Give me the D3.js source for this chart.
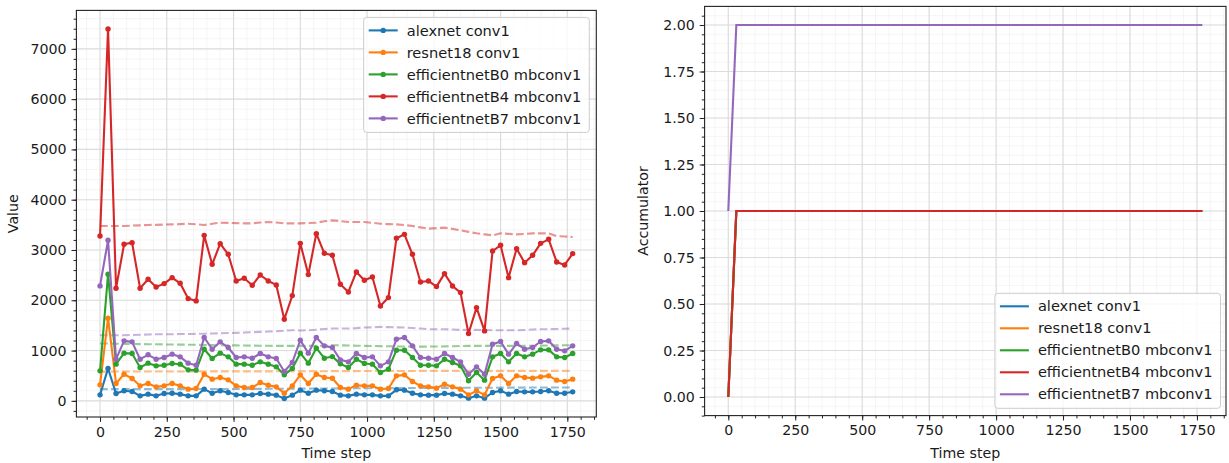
<!DOCTYPE html>
<html>
<head>
<meta charset="utf-8">
<script src="https://cdn.jsdelivr.net/npm/d3@7"></script>
<style>
  html, body { margin: 0; padding: 0; background: #fff; }
  svg { display: block; font-family: "DejaVu Sans", sans-serif; }
</style>
</head>
<body>
<svg id="chart" width="1229" height="463"></svg>
<script>
// time steps (x values)
const steps = [0,30,60,90,120,150,180,210,240,270,300,330,360,390,420,450,480,510,540,570,
  600,630,660,690,720,750,780,810,840,870,900,930,960,990,1020,1050,1080,1110,1140,1170,
  1200,1230,1260,1290,1320,1350,1380,1410,1440,1470,1500,1530,1560,1590,1620,1650,1680,1710,1740,1770];

const seriesNames = ['alexnet conv1', 'resnet18 conv1', 'efficientnetB0 mbconv1', 'efficientnetB4 mbconv1', 'efficientnetB7 mbconv1'];
const colors = ['#1f77b4', '#ff7f0e', '#2ca02c', '#d62728', '#9467bd'];

// left panel: values
const alexnet = [119,643,146,199,186,99,133,99,146,152,133,99,99,232,152,199,166,119,119,119,
  146,133,113,46,113,212,152,212,199,186,113,99,133,119,119,99,99,219,212,152,
  119,113,113,146,133,99,53,99,53,166,199,133,186,179,179,186,199,152,152,179];
const resnet18 = [318,1643,345,530,444,298,345,278,298,345,298,232,245,530,431,464,417,298,265,265,
  364,311,278,152,298,517,345,530,464,450,265,232,311,298,298,232,245,497,517,384,
  298,278,252,331,278,232,119,199,119,444,497,345,497,464,451,477,497,411,384,431];
const effB0 = [596,2518,729,948,941,663,749,696,709,742,729,616,610,1027,842,948,875,729,729,709,
  775,729,676,517,643,948,749,1047,848,880,735,663,828,742,729,563,630,1007,1007,862,
  709,709,696,828,762,696,398,563,411,875,941,775,941,875,928,1014,1014,875,862,941];
const effB4 = [3278,7397,2238,3113,3146,2238,2417,2265,2331,2450,2338,2033,1987,3291,2715,3126,2914,2384,2437,2298,
  2503,2384,2305,1623,2093,3132,2510,3325,2934,2894,2318,2165,2563,2397,2464,1887,2053,3232,3311,2914,
  2364,2384,2272,2530,2285,2152,1338,1854,1391,2980,3093,2450,3026,2748,2894,3132,3212,2762,2702,2927];
const effB7 = [2286,3194,828,1193,1173,828,915,828,862,928,875,749,709,1259,1027,1173,1060,862,875,848,
  941,875,842,583,762,1206,948,1259,1093,1060,815,775,941,862,875,696,775,1226,1259,1093,
  862,848,828,941,862,775,530,676,530,1127,1180,928,1140,1027,1060,1180,1193,1027,994,1093];

// left panel: dashed reference lines
const alexnetRef = [232,232,232,232,232,232,232,232,232,232,233,233,234,234,235,235,236,236,237,238,
  238,239,240,240,241,242,243,244,245,246,247,248,249,250,251,252,253,254,255,256,
  256,257,258,258,259,259,260,260,261,261,262,262,263,263,264,264,265,265,265,265];
const resnet18Ref = [580,580,582,583,583,583,583,583,583,583,583,584,584,584,585,585,585,585,586,586,
  586,586,587,587,587,588,588,588,589,590,590,591,591,592,592,593,593,594,594,594,
  595,595,595,596,596,596,596,596,596,596,596,596,596,596,596,596,596,596,596,596];
const effB0Ref = [1139,1139,1136,1133,1130,1128,1126,1124,1122,1120,1118,1116,1114,1110,1108,1106,1104,1102,1100,1098,
  1096,1094,1093,1093,1093,1093,1093,1094,1098,1106,1104,1100,1096,1093,1090,1087,1084,1082,1080,1079,
  1079,1079,1080,1082,1086,1090,1093,1093,1093,1093,1093,1093,1093,1093,1095,1098,1100,1102,1104,1106];
const effB4Ref = [3477,3477,3477,3477,3485,3490,3497,3500,3505,3510,3515,3523,3510,3497,3520,3543,3540,3535,3530,3530,
  3545,3556,3545,3530,3530,3530,3535,3543,3570,3589,3575,3556,3556,3556,3540,3523,3515,3510,3495,3477,
  3450,3424,3435,3444,3420,3391,3360,3331,3310,3291,3331,3320,3311,3320,3331,3331,3331,3278,3268,3258];
const effB7Ref = [1305,1305,1305,1305,1310,1315,1320,1325,1325,1325,1328,1330,1332,1335,1338,1344,1348,1352,1358,1365,
  1371,1378,1385,1395,1404,1400,1404,1415,1428,1437,1437,1437,1445,1457,1462,1470,1465,1460,1457,1448,
  1437,1424,1424,1424,1418,1411,1411,1411,1408,1404,1404,1404,1404,1410,1418,1424,1424,1430,1434,1437];

// right panel: accumulator (piecewise, points where it changes)
const accSteps = [0, 30, 1770];
const alexnetAcc = [0, 1, 1];
const resnet18Acc = [0, 1, 1];
const effB0Acc = [0, 1, 1];
const effB4Acc = [0, 1, 1];
const effB7Acc = [1, 2, 2];

const xTicks = [0,250,500,750,1000,1250,1500,1750];
const leftYTicks = [0,1000,2000,3000,4000,5000,6000,7000];
const rightYTicks = [0,0.25,0.5,0.75,1,1.25,1.5,1.75,2];

const values = [alexnet, resnet18, effB0, effB4, effB7];
const refs = [alexnetRef, resnet18Ref, effB0Ref, effB4Ref, effB7Ref];
const accs = [alexnetAcc, resnet18Acc, effB0Acc, effB4Acc, effB7Acc];

const svg = d3.select('#chart');
const FS = 14.2;

// matplotlib-ish autoscale with 5% margins
function padded(lo, hi){ const m = (hi - lo) * 0.05; return [lo - m, hi + m]; }

function panel({left, right, top, bottom, xDomain, yDomain, yTicks, yMinorStep, yFmt, ylabel, ylabelX}){
  const x = d3.scaleLinear().domain(xDomain).range([left, right]);
  const y = d3.scaleLinear().domain(yDomain).range([bottom, top]);
  const g = svg.append('g');

  const xMinor = d3.range(Math.ceil(xDomain[0]/50)*50, xDomain[1], 50);
  const yMinor = d3.range(Math.ceil(yDomain[0]/yMinorStep)*yMinorStep, yDomain[1], yMinorStep)
    .map(v => +v.toFixed(6));

  // grid
  const grid = g.append('g');
  grid.selectAll('.vm').data(xMinor).join('line')
    .attr('x1', d => x(d)).attr('x2', d => x(d)).attr('y1', top).attr('y2', bottom)
    .attr('stroke', '#f2f2f2').attr('stroke-width', 0.8);
  grid.selectAll('.hm').data(yMinor).join('line').attr('class','hm')
    .attr('y1', d => y(d)).attr('y2', d => y(d)).attr('x1', left).attr('x2', right)
    .attr('stroke', '#f2f2f2').attr('stroke-width', 0.8);
  grid.selectAll('.vM').data(xTicks).join('line').attr('class','vM')
    .attr('x1', d => x(d)).attr('x2', d => x(d)).attr('y1', top).attr('y2', bottom)
    .attr('stroke', '#dcdcdc').attr('stroke-width', 1.1);
  grid.selectAll('.hM').data(yTicks).join('line').attr('class','hM')
    .attr('y1', d => y(d)).attr('y2', d => y(d)).attr('x1', left).attr('x2', right)
    .attr('stroke', '#dcdcdc').attr('stroke-width', 1.1);

  // axes
  g.append('g').attr('transform', `translate(0,${bottom})`)
    .call(d3.axisBottom(x).tickValues(xTicks).tickSize(4.9).tickPadding(4.9).tickFormat(d3.format('d')));
  g.append('g').attr('transform', `translate(0,${bottom})`)
    .call(d3.axisBottom(x).tickValues(xMinor).tickSize(2.8).tickFormat(''));
  g.append('g').attr('transform', `translate(${left},0)`)
    .call(d3.axisLeft(y).tickValues(yTicks).tickSize(4.9).tickPadding(4.9).tickFormat(yFmt));
  g.append('g').attr('transform', `translate(${left},0)`)
    .call(d3.axisLeft(y).tickValues(yMinor).tickSize(2.8).tickFormat(''));
  g.selectAll('.domain').remove();
  g.selectAll('.tick line').attr('stroke', '#222').attr('stroke-width', 1);
  g.selectAll('.tick text').attr('font-size', FS).attr('fill', '#1a1a1a')
    .attr('font-family', '"DejaVu Sans", sans-serif');

  // labels
  g.append('text').attr('x', (left + right) / 2).attr('y', 458)
    .attr('text-anchor', 'middle').attr('font-size', FS).attr('fill', '#1a1a1a').text('Time step');
  g.append('text').attr('transform', `translate(${ylabelX},${(top + bottom) / 2}) rotate(-90)`)
    .attr('text-anchor', 'middle').attr('font-size', FS).attr('fill', '#1a1a1a').text(ylabel);

  const plot = g.append('g');
  return {x, y, g, plot, frame: () => g.append('rect')
    .attr('x', left).attr('y', top).attr('width', right - left).attr('height', bottom - top)
    .attr('fill', 'none').attr('stroke', '#222').attr('stroke-width', 1.1)};
}

function legend(g, {right, top, bottom, markers}){
  const rowH = 22, handle = 29, textOff = 43;
  const lg = g.append('g');
  const box = lg.append('rect').attr('rx', 3).attr('fill', 'rgba(255,255,255,0.8)')
    .attr('stroke', '#cccccc').attr('stroke-width', 1);
  const rows = lg.selectAll('g.row').data(seriesNames).join('g').attr('class', 'row')
    .attr('transform', (d, i) => `translate(0,${13 + i * rowH})`);
  rows.append('line').attr('x1', 5).attr('x2', 5 + handle).attr('y1', 0).attr('y2', 0)
    .attr('stroke', (d, i) => colors[i]).attr('stroke-width', 2.1);
  if (markers) rows.append('circle').attr('cx', 5 + handle / 2).attr('cy', 0).attr('r', 2.7)
    .attr('fill', (d, i) => colors[i]);
  const texts = rows.append('text').attr('x', textOff).attr('y', 0).attr('dy', '0.35em')
    .attr('font-size', 14.6).attr('fill', '#1a1a1a').text(d => d);
  const w = textOff + d3.max(texts.nodes(), n => n.getComputedTextLength()) + 8;
  const h = 13 + (seriesNames.length - 1) * rowH + 14;
  box.attr('x', 0).attr('y', 0).attr('width', w).attr('height', h);
  const ty = top != null ? top : bottom - h;
  lg.attr('transform', `translate(${right - w},${ty})`);
}

// ---- left: values ----
const allVals = values.flat().concat(refs.flat());
const L = panel({
  left: 76.4, right: 596.3, top: 10.4, bottom: 417,
  xDomain: padded(steps[0], steps[steps.length - 1]),
  yDomain: padded(d3.min(allVals), d3.max(allVals)),
  yTicks: leftYTicks, yMinorStep: 200, yFmt: d3.format('d'),
  ylabel: 'Value', ylabelX: 18
});
const lineL = d3.line().x((d, k) => L.x(steps[k])).y(d => L.y(d));
refs.forEach((r, i) => {
  L.plot.append('path').datum(r).attr('d', lineL).attr('fill', 'none')
    .attr('stroke', colors[i]).attr('stroke-opacity', 0.5).attr('stroke-width', 2.1)
    .attr('stroke-dasharray', '7.7,3.3');
});
values.forEach((v, i) => {
  const s = L.plot.append('g');
  s.append('path').datum(v).attr('d', lineL).attr('fill', 'none')
    .attr('stroke', colors[i]).attr('stroke-width', 2.1).attr('stroke-linejoin', 'round');
  s.selectAll('circle').data(v).join('circle')
    .attr('cx', (d, k) => L.x(steps[k])).attr('cy', d => L.y(d)).attr('r', 2.7)
    .attr('fill', colors[i]);
});
L.frame();
legend(L.g, {right: 589.3, top: 17.4, markers: true});

// ---- right: accumulator ----
const R = panel({
  left: 704.6, right: 1226, top: 6.4, bottom: 415.6,
  xDomain: padded(accSteps[0], accSteps[accSteps.length - 1]),
  yDomain: padded(d3.min(accs.flat()), d3.max(accs.flat())),
  yTicks: rightYTicks, yMinorStep: 0.05, yFmt: d3.format('.2f'),
  ylabel: 'Accumulator', ylabelX: 648
});
accs.forEach((a, i) => {
  R.plot.append('path').datum(a)
    .attr('d', d3.line().x((d, k) => R.x(accSteps[k])).y(d => R.y(d)))
    .attr('fill', 'none').attr('stroke', colors[i]).attr('stroke-width', 2.1);
});
R.frame();
legend(R.g, {right: 1220.5, bottom: 408.3, markers: false});
</script>
</body>
</html>
